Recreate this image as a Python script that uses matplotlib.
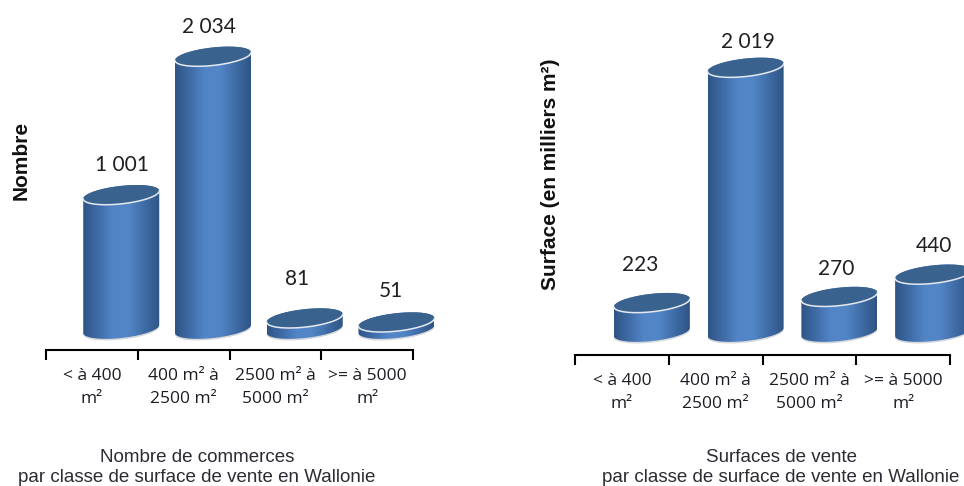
import numpy as np
import matplotlib
matplotlib.use("Agg")
import matplotlib.pyplot as plt
from matplotlib.colors import LinearSegmentedColormap
from matplotlib.patches import Polygon

W, H = 964, 486

# =========================
# DATA
# =========================

categories = ["< à 400\nm²", "400 m² à\n2500 m²", "2500 m² à\n5000 m²", ">= à 5000\nm²"]

nombre = [1001, 2034, 81, 51]
nombre_labels = ["1 001", "2 034", "81", "51"]

surface = [223, 2019, 270, 440]
surface_labels = ["223", "2 019", "270", "440"]

# =========================
# STYLE
# =========================

body_cmap = LinearSegmentedColormap.from_list(
    "cyl", ["#2f5585", "#3f6ca8", "#5386c8", "#5285c5", "#3f6ca6", "#2f5585"]
)
TOP_COLOR = "#3a628f"
SHADOW = "#d5d7db"
TEXT = "#2b2b33"
LABEL_FONT = ["Lato", "DejaVu Sans"]
TICK_FONT = ["Open Sans", "DejaVu Sans"]

plt.rcParams["font.family"] = ["Liberation Sans", "DejaVu Sans"]


def cylinder(ax, cx, value, xs, ys, half_w=38, half_h=9, tilt=4):
    a = half_w / xs
    b = half_h / ys
    k = tilt / ys

    def ell(v, t):
        return cx + a * np.cos(t), v + b * np.sin(t) + k * np.cos(t)

    # shadow under the base
    sx, sy = ell(-1.6 / ys, np.linspace(0, 2 * np.pi, 100))
    ax.add_patch(Polygon(np.c_[sx, sy], fc=SHADOW, ec="none", zorder=2, clip_on=False))

    bx, by = ell(0, np.linspace(np.pi, 2 * np.pi, 60))
    tx, ty = ell(value, np.linspace(0, np.pi, 60))
    body = Polygon(np.c_[np.r_[bx, tx], np.r_[by, ty]], fc="none", ec="none", zorder=3,
                   clip_on=False)
    ax.add_patch(body)

    grad = np.linspace(0, 1, 200).reshape(1, -1)
    im = ax.imshow(grad, cmap=body_cmap, aspect="auto", zorder=3,
                   extent=[cx - a, cx + a, -2 * b, value + 2 * b])
    # the image is cut at the axes box otherwise
    im.set_clip_box(ax.figure.bbox)
    im.set_clip_path(body)

    ex, ey = ell(value, np.linspace(0, 2 * np.pi, 100))
    ax.add_patch(Polygon(np.c_[ex, ey], fc=TOP_COLOR, ec="none", zorder=4, clip_on=False))
    rx, ry = ell(value, np.linspace(np.pi, 2 * np.pi, 60))
    ax.plot(rx, ry, color="#e4e9f0", lw=1.1, zorder=5, clip_on=False, solid_capstyle="round")


def panel(fig, values, labels, left, right, axis_y, base_y, scale, label_x, label_y, ylabel,
          ylabel_pos, title, title_x):
    ax = fig.add_axes([left / W, 1 - axis_y / H, (right - left) / W, axis_y / H])
    ax.patch.set_alpha(0)
    xs = (right - left) / 4

    centers = np.arange(len(values)) + 0.82
    for cx, v in zip(centers, values):
        cylinder(ax, cx, v, xs, scale)
    ax.set_xlim(0, 4)
    ax.set_ylim(-(axis_y - base_y) / scale, base_y / scale)

    # value labels sit at hand read positions
    for lab, px, py in zip(labels, label_x, label_y):
        ax.text((px - left) / xs, (base_y - py) / scale, lab, ha="center", va="center",
                fontsize=15, color="#1f1f24", family=LABEL_FONT)

    for s in ["top", "left", "right"]:
        ax.spines[s].set_visible(False)
    ax.spines["bottom"].set_linewidth(1.5)
    ax.set_yticks([])
    ax.set_xticks(range(5))
    ax.set_xticklabels([])
    ax.tick_params(axis="x", which="major", length=7, width=1.5, direction="out")
    ax.set_xticks(np.arange(4) + 0.5, minor=True)
    ax.set_xticklabels(categories, minor=True, fontsize=12.5, color="#1c1c24",
                       family=TICK_FONT, linespacing=1.6)
    ax.tick_params(axis="x", which="minor", length=0, pad=13)

    fig.text(ylabel_pos[0] / W, 1 - ylabel_pos[1] / H, ylabel, rotation=90, ha="center",
             va="center", fontsize=15, fontweight="bold", color="#111111")
    fig.text(title_x / W, 1 - 467.5 / H, title, ha="center", va="center", fontsize=13.5,
             color=TEXT, linespacing=1.22)


fig = plt.figure(figsize=(W / 100, H / 100), dpi=100, facecolor="white")

panel(fig, nombre, nombre_labels, 46, 413, 350, 329, 0.134,
      [122, 209, 297, 391], [165, 27, 279, 291],
      "Nombre", (21, 160),
      "Nombre de commerces\npar classe de surface de vente en Wallonie", 197)

panel(fig, surface, surface_labels, 575, 950, 355, 332, 0.131,
      [640, 748, 836, 934], [265, 42, 269, 246],
      "Surface (en milliers m²)", (550, 174),
      "Surfaces de vente\npar classe de surface de vente en Wallonie", 781)

fig.savefig("out.png", dpi=100)
